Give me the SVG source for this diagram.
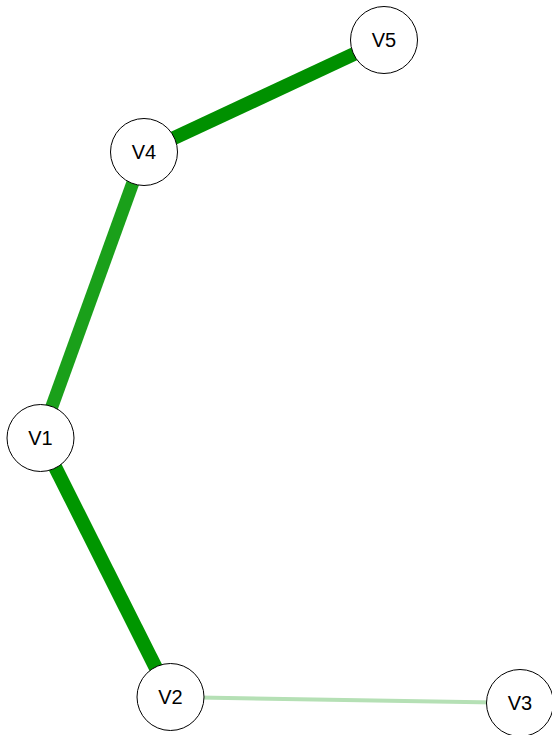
<svg xmlns="http://www.w3.org/2000/svg" width="552" height="735" viewBox="0 0 552 735">
<style>
.node circle{fill:#fff;stroke:#000;stroke-width:1}
.node text{font-family:"Liberation Sans",Arial,sans-serif;font-size:20px;text-anchor:middle;dominant-baseline:central;fill:#000}
.edge{fill:none}
</style>
<rect width="552" height="735" fill="#fff"/>
<g id="connectors">
<line class="edge" x1="384" y1="40" x2="144" y2="152" stroke="#009000" stroke-width="14"/>
<line class="edge" x1="144" y1="152" x2="40.5" y2="438" stroke="#1aa01a" stroke-width="13"/>
<line class="edge" x1="40.5" y1="438" x2="170.5" y2="697" stroke="#009600" stroke-width="14"/>
<line class="edge" x1="170.5" y1="697" x2="520" y2="703" stroke="#b5e0b5" stroke-width="4"/>
</g>
<g id="V5" class="node"><circle cx="384" cy="40" r="33.5"/><text x="384" y="40">V5</text></g>
<g id="V4" class="node"><circle cx="144" cy="152" r="33.5"/><text x="144" y="152">V4</text></g>
<g id="V1" class="node"><circle cx="40.5" cy="438" r="33.5"/><text x="40.5" y="438">V1</text></g>
<g id="V2" class="node"><circle cx="170.5" cy="697" r="33.5"/><text x="170.5" y="697">V2</text></g>
<g id="V3" class="node"><circle cx="520" cy="703" r="33.5"/><text x="520" y="703">V3</text></g>
</svg>
